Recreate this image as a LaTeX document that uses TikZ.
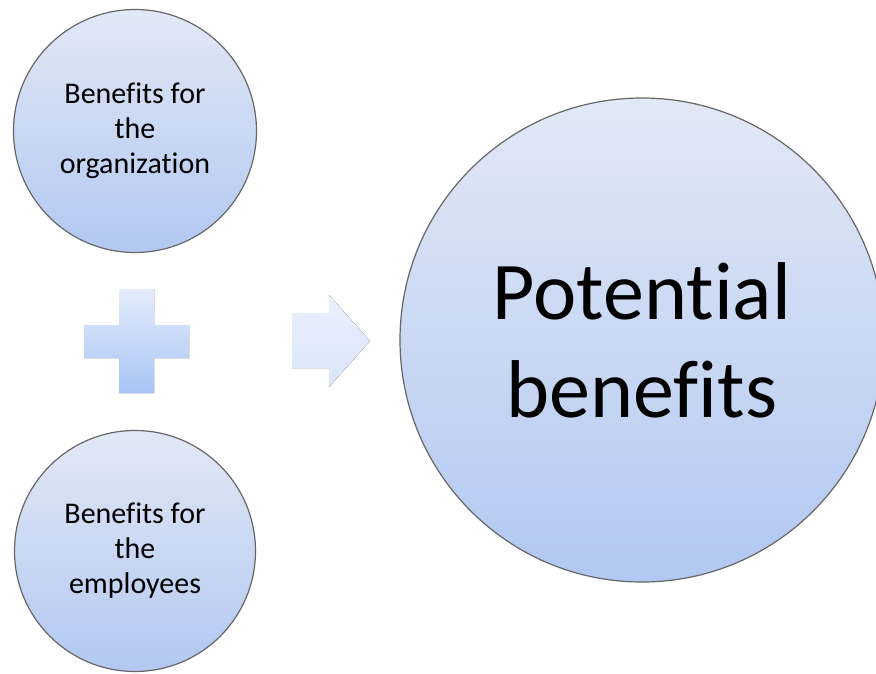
\documentclass[tikz,border=0pt]{standalone}
\usepackage{fontspec}
\setmainfont{Carlito}[Ligatures=NoCommon]
\usetikzlibrary{shadings}
\definecolor{bubtop}{RGB}{226,232,245}
\definecolor{bubbot}{RGB}{178,200,242}
\definecolor{plustop}{RGB}{228,236,251}
\definecolor{plusbot}{RGB}{168,196,245}
\definecolor{arrtop}{RGB}{234,240,252}
\definecolor{arrbot}{RGB}{218,229,250}
\tikzset{
  bubble/.style={circle, draw=gray!80!black, line width=1.2pt, top color=bubtop, bottom color=bubbot, align=center, inner sep=0pt},
  smalltxt/.style={font=\fontsize{30}{35}\selectfont},
  bigtxt/.style={font=\fontsize{82}{98}\selectfont},
}
\begin{document}
\begin{tikzpicture}[x=1pt, y=-1pt, line join=round]
	\useasboundingbox (0,0) rectangle (876,673);
	\clip (0,0) rectangle (876,673);
	\node[bubble, smalltxt, minimum size=243pt] (org) at (135,131) {Benefits for\\the\\organization};
	\node[bubble, smalltxt, minimum size=241pt] (emp) at (135,551) {Benefits for\\the\\employees};
	\node[bubble, bigtxt, minimum size=484pt] (pot) at (642,340) {Potential\\benefits};
	% plus sign
	\fill[top color=plustop, bottom color=plusbot] (119,289) -- (154,289) -- (154,325) -- (189,325) -- (189,358) -- (154,358) -- (154,393) -- (119,393) -- (119,358) -- (84,358) -- (84,325) -- (119,325) -- cycle;
	% arrow
	\fill[top color=arrtop, bottom color=arrbot] (292,313) -- (329,313) -- (329,295) -- (370,341) -- (329,387) -- (329,368) -- (292,368) -- cycle;
\end{tikzpicture}
\end{document}
